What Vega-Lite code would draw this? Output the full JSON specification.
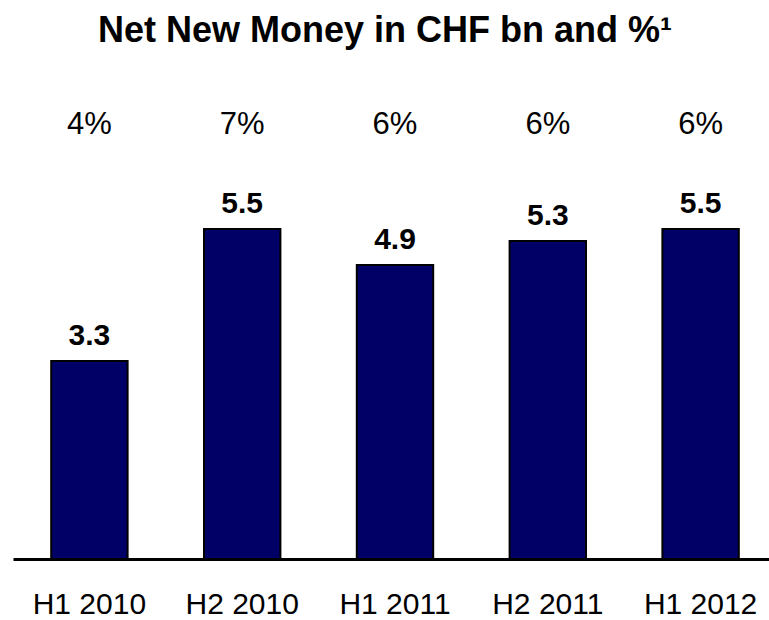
{
  "$schema": "https://vega.github.io/schema/vega-lite/v6.json",
  "width": 756,
  "height": 450,
  "autosize": {"type": "none"},
  "padding": {"left": 13, "top": 109, "right": 0, "bottom": 61},
  "background": "white",
  "config": {"view": {"stroke": null}, "font": "Liberation Sans"},
  "title": {
    "text": "Net New Money in CHF bn and %¹",
    "fontSize": 36,
    "fontWeight": "bold",
    "font": "Liberation Sans",
    "color": "black",
    "anchor": "middle",
    "baseline": "alphabetic",
    "offset": 31,
    "dx": -6,
    "frame": "group"
  },
  "data": {
    "values": [
      {"period": "H1 2010", "nnm": 3.3, "pct": "4%"},
      {"period": "H2 2010", "nnm": 5.5, "pct": "7%"},
      {"period": "H1 2011", "nnm": 4.9, "pct": "6%"},
      {"period": "H2 2011", "nnm": 5.3, "pct": "6%"},
      {"period": "H1 2012", "nnm": 5.5, "pct": "6%"}
    ]
  },
  "encoding": {
    "x": {
      "field": "period",
      "type": "nominal",
      "sort": null,
      "scale": {"range": [0, 764], "paddingInner": 0.5, "paddingOuter": 0.25},
      "axis": {
        "title": null,
        "labelAngle": 0,
        "labelFontSize": 30,
        "labelColor": "black",
        "labelFont": "Liberation Sans",
        "ticks": false,
        "tickSize": 0,
        "domainColor": "black",
        "domainWidth": 3,
        "labelPadding": 54,
        "labelBaseline": "alphabetic",
        "labelOverlap": false
      }
    }
  },
  "layer": [
    {
      "mark": {"type": "bar", "color": "#000066", "stroke": "black", "strokeWidth": 2},
      "encoding": {
        "y": {"field": "nnm", "type": "quantitative", "scale": {"domain": [0, 7.5], "nice": false}, "axis": null}
      }
    },
    {
      "mark": {"type": "text", "fontSize": 30, "fontWeight": "bold", "baseline": "alphabetic", "dy": -16, "color": "black"},
      "encoding": {
        "y": {"field": "nnm", "type": "quantitative"},
        "text": {"field": "nnm", "type": "quantitative", "format": ".1f"}
      }
    },
    {
      "mark": {"type": "text", "fontSize": 31, "baseline": "alphabetic", "color": "black"},
      "encoding": {
        "y": {"datum": 7.08},
        "text": {"field": "pct", "type": "nominal"}
      }
    }
  ]
}
